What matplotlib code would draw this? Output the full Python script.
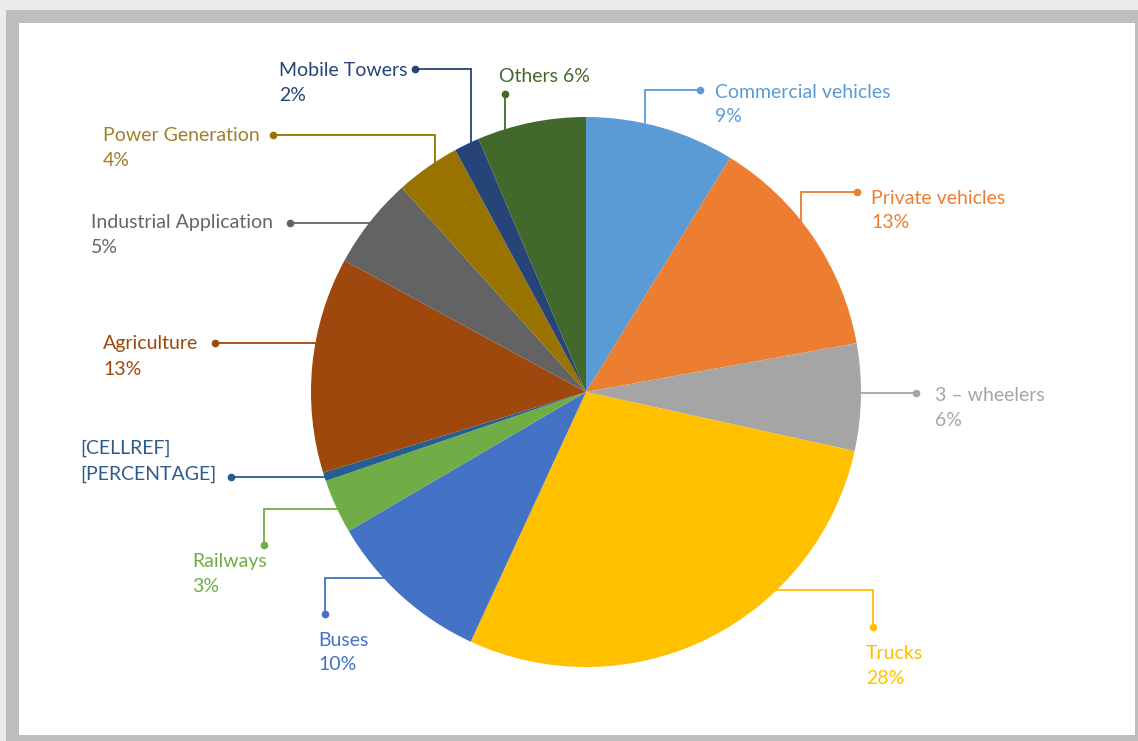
import matplotlib
matplotlib.use("Agg")
import matplotlib.pyplot as plt
from matplotlib.patches import Rectangle
import numpy as np

# ---- data ----
categories = ["Commercial vehicles", "Private vehicles", "3 – wheelers", "Trucks",
              "Buses", "Railways", "[CELLREF]", "Agriculture",
              "Industrial Application", "Power Generation", "Mobile Towers", "Others"]
shares = [8.8, 13.4, 6.3, 28.5, 9.7, 3.2, 0.5, 12.7, 5.4, 3.8, 1.5, 6.4]
pct_labels = ["9%", "13%", "6%", "28%", "10%", "3%", "[PERCENTAGE]",
              "13%", "5%", "4%", "2%", "6%"]
colors = ["#5b9bd5", "#ed7d31", "#a5a5a5", "#ffc000", "#4472c4", "#70ad47",
          "#255e91", "#9e480e", "#636363", "#997300", "#264478", "#43682b"]
text_colors = ["#5b9bd5", "#ed7d31", "#a5a5a5", "#ffc000", "#4472c4", "#70ad47",
               "#2f5b8c", "#9e480e", "#666666", "#a07f2e", "#264478", "#43682b"]

plt.rcParams['font.family'] = ['Lato', 'DejaVu Sans']

W, H = 1138, 741
fig = plt.figure(figsize=(W / 100, H / 100), dpi=100)
fig.patch.set_facecolor("#ebebeb")

# pie geometry (pixels)
CX, CY, R = 586, 392, 275

# frame overlay (background)
bg = fig.add_axes([0, 0, 1, 1], zorder=0)
bg.set_xlim(0, W)
bg.set_ylim(H, 0)
bg.axis("off")
bg.add_patch(Rectangle((6, 10), W - 6, H - 10, color="#bdbebf", lw=0))
bg.add_patch(Rectangle((19, 23), 1135 - 19, 735 - 23, color="white", lw=0))

# pie axes
ax = fig.add_axes([(CX - R) / W, (H - CY - R) / H, 2 * R / W, 2 * R / H], zorder=1)
ax.pie(shares, colors=colors, startangle=90, counterclock=False, radius=1,
       wedgeprops=dict(linewidth=0))
ax.set_xlim(-1, 1)
ax.set_ylim(-1, 1)
ax.set_aspect("equal")
ax.axis("off")

# annotation overlay
ov = fig.add_axes([0, 0, 1, 1], zorder=2)
ov.set_xlim(0, W)
ov.set_ylim(H, 0)
ov.axis("off")
ov.patch.set_alpha(0)


def edge_x(y, side):
    return CX + side * np.sqrt(R ** 2 - (y - CY) ** 2)


def edge_y(x, side):
    return CY + side * np.sqrt(R ** 2 - (x - CX) ** 2)


FS = 14
DY = 1.5
# (text x, line1 y, line2 y)
label_pos = [
    (715, 91, 115),
    (871, 197, 221),
    (935, 394, 419),
    (866, 652, 677),
    (318, 639, 663),
    (192, 560, 585),
    (80, 447, 473),
    (103, 342, 368),
    (91, 221, 246),
    (103, 134, 159),
    (279, 69, 94),
    (499, 75, None),
]

for i, (tx, y1, y2) in enumerate(label_pos):
    c = text_colors[i]
    if y2 is None:
        ov.text(tx, y1 + DY, f"{categories[i]} {pct_labels[i]}", color=c, fontsize=FS,
                ha="left", va="center")
    else:
        ov.text(tx, y1 + DY, categories[i], color=c, fontsize=FS, ha="left", va="center")
        ov.text(tx, y2 + DY, pct_labels[i], color=c, fontsize=FS, ha="left", va="center")

# leader lines: list of polyline points, first point = dot
lw = 1.3
leaders = [
    [(700, 90), (645, 90), (645, edge_y(645, -1))],
    [(857, 192), (801, 192), (801, edge_y(801, -1))],
    [(916, 393), (edge_x(393, 1), 393)],
    [(873, 627), (873, 590), (edge_x(590, 1), 590)],
    [(325, 614), (325, 578), (edge_x(578, -1), 578)],
    [(264, 545), (264, 509), (edge_x(509, -1), 509)],
    [(231, 477), (edge_x(477, -1), 477)],
    [(215, 343), (edge_x(343, -1), 343)],
    [(290, 223), (edge_x(223, -1), 223)],
    [(273, 135), (435, 135), (435, edge_y(435, -1))],
    [(415, 69), (471, 69), (471, edge_y(471, -1))],
    [(505, 94), (505, edge_y(505, -1))],
]
for i, pts in enumerate(leaders):
    xs = [p[0] for p in pts]
    ys = [p[1] for p in pts]
    ov.plot(xs, ys, color=colors[i], lw=lw, solid_joinstyle="miter")
    ov.plot([xs[0]], [ys[0]], "o", color=colors[i], ms=4.5)

fig.savefig("out.png", dpi=100, facecolor=fig.get_facecolor())
